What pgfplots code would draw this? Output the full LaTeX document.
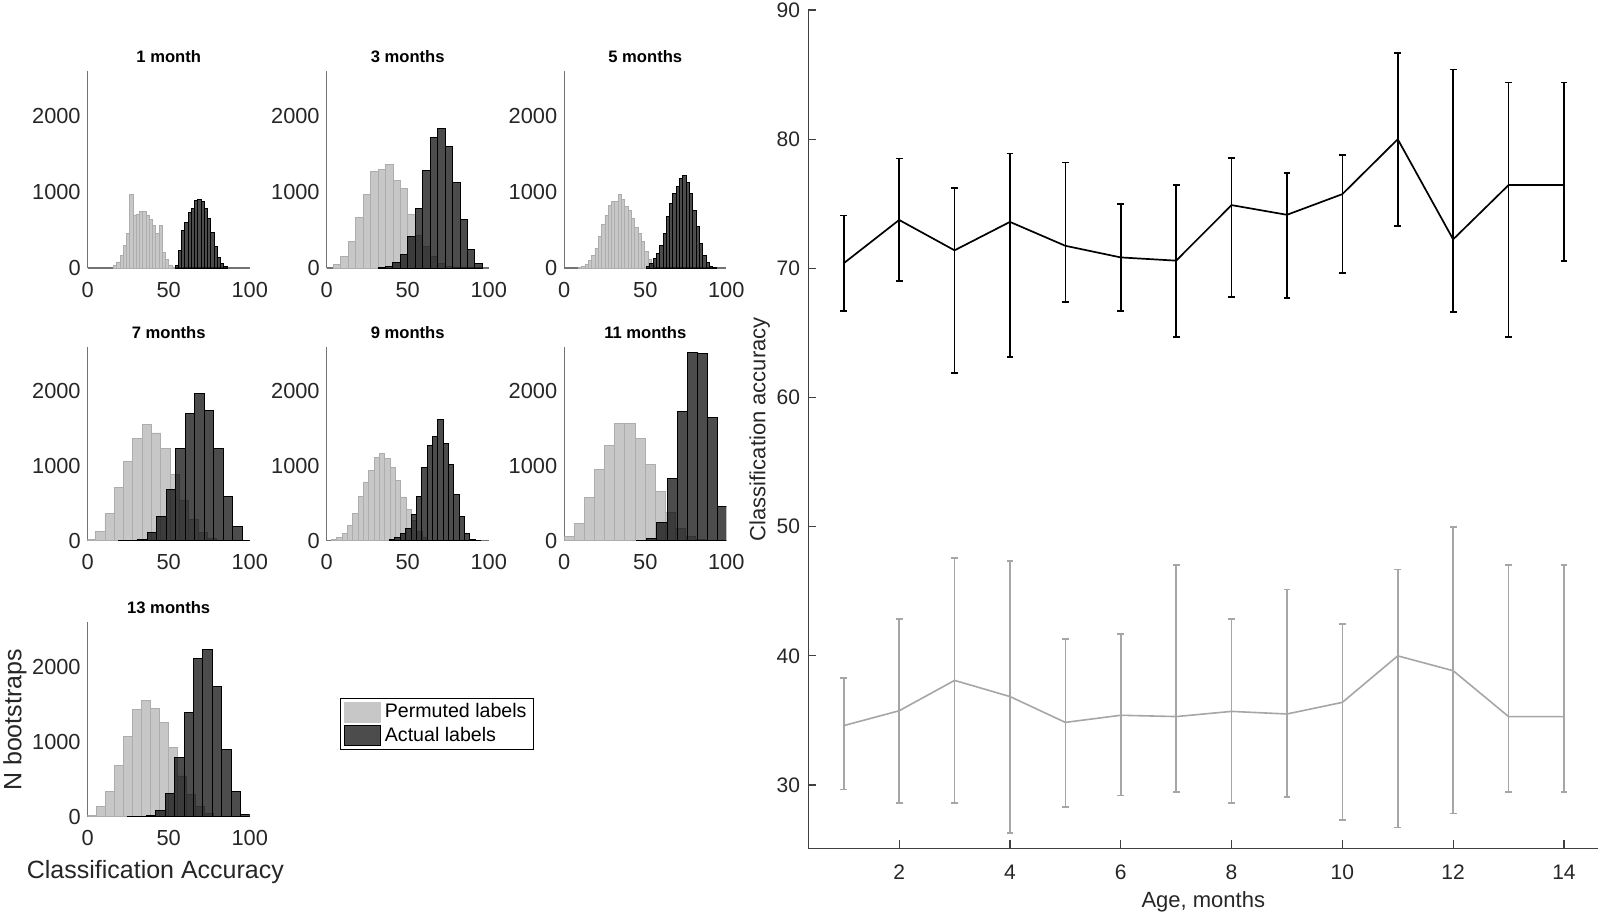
\documentclass[border=0pt]{standalone}
\usepackage{fontspec}
\setmainfont{Liberation Sans}
\usepackage{pgfplots}
\usepackage{pgfplotstable}
\pgfplotsset{compat=1.18}

% right panel data: x, mean, lower, upper
\pgfplotstableread{
x y lo hi
1 70.4 66.7 74.1
2 73.75 69.0 78.5
3 71.4 61.9 76.2
4 73.6 63.15 78.9
5 71.75 67.4 78.2
6 70.85 66.7 75.0
7 70.6 64.7 76.45
8 74.9 67.8 78.55
9 74.15 67.7 77.4
10 75.75 69.65 78.8
11 80.0 73.3 86.7
12 72.25 66.65 85.4
13 76.45 64.7 84.4
14 76.45 70.6 84.4
}\actualtab
\pgfplotstableread{
x y lo hi
1 34.6 29.65 38.3
2 35.75 28.6 42.85
3 38.1 28.6 47.6
4 36.85 26.3 47.35
5 34.85 28.3 41.3
6 35.4 29.2 41.7
7 35.3 29.45 47.05
8 35.7 28.6 42.85
9 35.5 29.05 45.15
10 36.4 27.3 42.45
11 40.0 26.7 46.7
12 38.85 27.8 50.0
13 35.3 29.45 47.05
14 35.3 29.45 47.05
}\permtab

\pgfplotsset{
  hist/.style={
    scale only axis, width=81pt, height=97.5pt,
    xmin=0, xmax=100, ymin=0, ymax=2600,
    axis x line*=bottom, axis y line*=left,
    axis line style={-, draw=black!55, line width=0.6pt},
    xtick={0,50,100}, ytick={0,1000,2000},
    major tick length=0pt,
    tick label style={font=\fontsize{10.9}{12}\selectfont, text=black!85},
    xticklabel shift=3.5pt,
    /pgf/number format/1000 sep={},
    /pgf/number format/assume math mode=true,
    every axis title/.style={at={(0.5,1)}, anchor=base, yshift=4pt,
      font=\fontsize{8.3}{10}\selectfont\bfseries},
  },
  perm/.style={ybar, bar shift=0pt, bar width=#1, fill=black!22, draw=black!32,
    line width=0.4pt,
    legend image code/.code={\fill[black!22] (0pt,-5pt) rectangle (18pt,5pt);}},
  act/.style={ybar, bar shift=0pt, bar width=#1, fill=black, fill opacity=0.7,
    draw=black, line width=0.5pt,
    legend image code/.code={\draw[fill=black, fill opacity=0.7, draw=black, line width=0.5pt] (0pt,-5pt) rectangle (18pt,5pt);}},
}

\begin{document}
\begin{tikzpicture}
\path[use as bounding box] (0,0) rectangle (801.5pt,459pt);

% ---------- 1 month ----------
\begin{axis}[hist, at={(43.85pt,325pt)}, anchor=south west, height=98.6pt, title={1 month}]
\addplot[perm=2] coordinates {(17,30)(19,80)(21,170)(23,300)(25,450)(27,970)(29,700)(31,710)(33,740)(35,750)(37,700)(39,640)(41,560)(43,450)(45,560)(47,200)(49,110)(51,40)(53,10)};
\addplot[act=2] coordinates {(55,30)(57,230)(59,500)(61,600)(63,730)(65,780)(67,890)(69,900)(71,880)(73,780)(75,650)(77,470)(79,280)(81,140)(83,60)(85,20)};
\end{axis}

% ---------- 3 months ----------
\begin{axis}[hist, at={(163.35pt,325pt)}, anchor=south west, height=98.6pt, title={3 months}]
\addplot[perm=4.6] coordinates {(6.4,48)(11.0,158)(15.6,355)(20.2,667)(24.8,970)(29.4,1276)(34.0,1298)(38.6,1364)(43.2,1158)(47.8,1048)(52.4,711)(57.0,434)(61.6,280)(66.2,150)(70.8,60)(75.4,20)};
\addplot[act=4.6] coordinates {(34.0,5)(38.6,15)(43.2,75)(47.8,184)(52.4,412)(57.0,790)(61.6,1290)(66.2,1720)(70.8,1840)(75.4,1605)(80.0,1125)(84.6,640)(89.2,245)(93.8,60)};
\end{axis}

% ---------- 5 months ----------
\begin{axis}[hist, at={(282.15pt,325pt)}, anchor=south west, height=98.6pt, title={5 months}]
\addplot[perm=2.05] coordinates {(9.7,9)(11.75,25)(13.8,50)(15.85,105)(17.9,170)(19.95,260)(22.0,412)(24.05,570)(26.1,700)(28.15,820)(30.2,880)(32.25,880)(34.3,975)(36.35,900)(38.4,810)(40.45,760)(42.5,650)(44.55,540)(46.6,450)(48.65,346)(50.7,215)(52.75,110)(54.8,40)};
\addplot[act=2.05] coordinates {(51.7,26)(53.75,61)(55.8,127)(57.85,193)(59.9,303)(61.95,456)(64.0,675)(66.05,851)(68.1,982)(70.15,1070)(72.2,1180)(74.25,1215)(76.3,1123)(78.35,982)(80.4,763)(82.45,544)(84.5,325)(86.55,171)(88.6,70)(90.65,26)(92.7,9)};
\end{axis}

% ---------- 7 months ----------
\begin{axis}[hist, at={(43.85pt,188.65pt)}, anchor=south west, height=97pt, title={7 months}]
\addplot[perm=5.75] coordinates {(2.0,22)(7.75,120)(13.5,364)(19.25,711)(25.0,1062)(30.75,1373)(36.5,1556)(42.25,1444)(48.0,1231)(53.75,884)(59.5,540)(65.25,280)(71.0,110)(76.75,30)};
\addplot[act=5.86] coordinates {(22.2,5)(28.0,5)(33.9,22)(39.8,111)(45.6,329)(51.5,684)(57.3,1240)(63.2,1707)(69.1,1973)(74.9,1742)(80.8,1240)(86.6,596)(92.5,187)(98.4,9)};
\end{axis}

% ---------- 9 months ----------
\begin{axis}[hist, at={(163.35pt,188.65pt)}, anchor=south west, height=97pt, title={9 months}]
\addplot[perm=3.29] coordinates {(4.6,22)(7.9,44)(11.2,98)(14.5,209)(17.8,364)(21.1,596)(24.3,787)(27.6,942)(30.9,1111)(34.2,1164)(37.5,1098)(40.8,978)(44.1,809)(47.4,587)(50.7,418)(54.0,276)(57.3,120)(60.6,40)};
\addplot[act=3.29] coordinates {(40.5,22)(43.8,44)(47.1,98)(50.4,164)(53.7,351)(57.0,596)(60.3,987)(63.6,1276)(66.9,1400)(70.2,1622)(73.5,1307)(76.8,1022)(80.1,622)(83.4,320)(86.7,98)(90.0,18)(93.3,9)};
\end{axis}

% ---------- 11 months ----------
\begin{axis}[hist, at={(282.15pt,188.65pt)}, anchor=south west, height=97pt, title={11 months}]
\addplot[perm=6.2] coordinates {(3.3,63)(9.5,233)(15.7,582)(21.9,957)(28.1,1275)(34.3,1575)(40.5,1575)(46.7,1374)(52.9,1025)(59.1,658)(65.3,380)(71.5,160)(77.7,60)(83.9,20)};
\addplot[act=6.2] coordinates {(47.9,9)(54.1,31)(60.3,242)(66.5,837)(72.7,1732)(78.9,2528)(85.1,2514)(91.3,1655)(97.5,465)};
\end{axis}

% ---------- 13 months ----------
\begin{axis}[hist, at={(43.85pt,50.65pt)}, anchor=south west, height=97.5pt, title={13 months},
  legend style={at={(1.56,0.608)}, anchor=north west, draw=black, line width=0.5pt,
    font=\fontsize{9.8}{11}\selectfont, inner xsep=1.5pt, inner ysep=0.5pt, row sep=-1pt,
    /tikz/every even column/.append style={column sep=1pt}},
  legend cell align=left]
\addplot[perm=5.56] coordinates {(2.6,22)(8.2,142)(13.7,341)(19.3,686)(24.8,1071)(30.4,1425)(36.0,1549)(41.5,1438)(47.1,1261)(52.6,929)(58.2,544)(63.8,300)(69.3,133)(74.9,44)};
\addlegendentry{Permuted labels}
\addplot[act=5.8] coordinates {(27.6,5)(33.4,9)(39.2,22)(45.0,80)(50.8,310)(56.6,788)(62.4,1394)(68.2,2115)(74.0,2235)(79.8,1735)(85.6,898)(91.4,341)(97.2,31)};
\addlegendentry{Actual labels}
\end{axis}

\node[rotate=90, font=\fontsize{12.5}{14}\selectfont, text=black!85] at (7.5pt,99pt) {N bootstraps};
\node[font=\fontsize{12.5}{14}\selectfont, text=black!85] at (77.7pt,23pt) {Classification Accuracy};

% ---------- right panel ----------
\begin{axis}[
  at={(404.15pt,34.85pt)}, anchor=south west,
  scale only axis, width=395pt, height=419.1pt,
  xmin=0.36, xmax=14.62, ymin=25.1, ymax=90,
  axis x line*=bottom, axis y line*=left,
  axis line style={-, draw=black!75, line width=0.6pt},
  xtick={2,4,...,14}, ytick={30,40,...,90},
  tick align=inside, major tick length=4pt,
  tick style={draw=black!75, line width=0.6pt},
  tick label style={font=\fontsize{10.5}{12}\selectfont, text=black!85},
  xticklabel shift=4.8pt, yticklabel shift=0.6pt,
  /pgf/number format/assume math mode=true,
  xlabel={Age, months}, ylabel={Classification accuracy},
  every axis x label/.style={at={(axis description cs:0.5,0)}, anchor=center, yshift=-26.7pt,
    font=\fontsize{11}{13}\selectfont, text=black!85},
  every axis y label/.style={at={(axis description cs:-0.0616,0.5)}, rotate=90, anchor=center,
    font=\fontsize{11}{13}\selectfont, text=black!85},
]
\addplot[black!35, line width=0.8pt,
  error bars/.cd, y dir=both, y explicit, error mark=-,
  error bar style={black!35, line width=0.8pt},
  error mark options={rotate=90, black!35, mark size=1.7pt, line width=0.8pt}]
  table[x=x, y=y, y error plus expr=\thisrow{hi}-\thisrow{y}, y error minus expr=\thisrow{y}-\thisrow{lo}] {\permtab};
\addplot[black, line width=0.85pt,
  error bars/.cd, y dir=both, y explicit, error mark=-,
  error bar style={black, line width=0.85pt},
  error mark options={rotate=90, black, mark size=1.7pt, line width=0.85pt}]
  table[x=x, y=y, y error plus expr=\thisrow{hi}-\thisrow{y}, y error minus expr=\thisrow{y}-\thisrow{lo}] {\actualtab};
\end{axis}
\end{tikzpicture}
\end{document}
